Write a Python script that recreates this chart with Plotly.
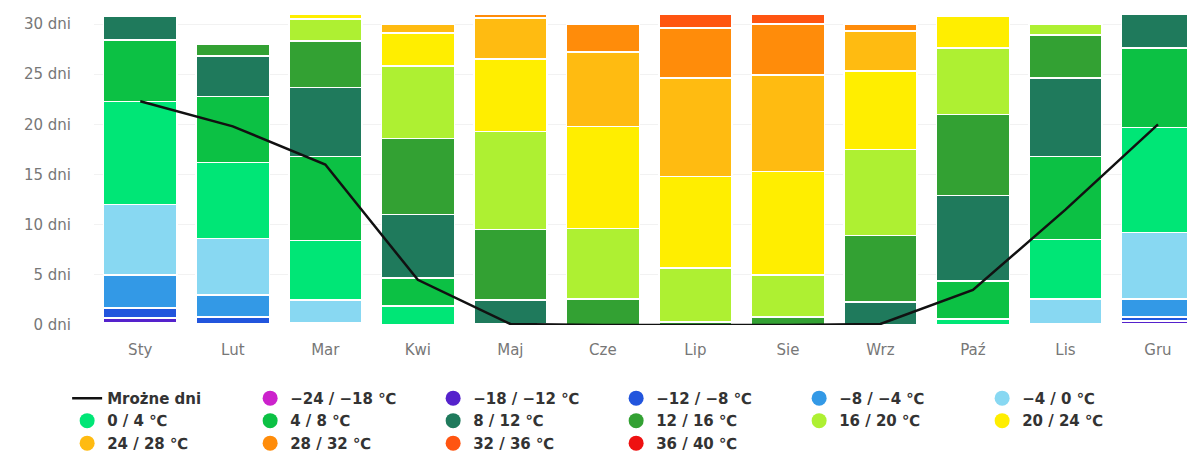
import plotly.graph_objects as go

months = ['Sty', 'Lut', 'Mar', 'Kwi', 'Maj', 'Cze', 'Lip', 'Sie', 'Wrz', 'Paź', 'Lis', 'Gru']

bin_labels = ['−24 / −18 ℃', '−18 / −12 ℃', '−12 / −8 ℃', '−8 / −4 ℃', '−4 / 0 ℃',
              '0 / 4 ℃', '4 / 8 ℃', '8 / 12 ℃', '12 / 16 ℃', '16 / 20 ℃',
              '20 / 24 ℃', '24 / 28 ℃', '28 / 32 ℃', '32 / 36 ℃', '36 / 40 ℃']

bin_colors = ['#cc22cc', '#5522cc', '#2255dd', '#3399e6', '#88d8f2',
              '#00e676', '#0cc144', '#1f7a5c', '#33a133', '#aef032',
              '#ffee00', '#ffbb11', '#ff8c0a', '#ff5511', '#ee1111']

d_m24_m18 = [0.2, 0, 0, 0, 0, 0, 0, 0, 0, 0, 0, 0.1]
d_m18_m12 = [0.5, 0.1, 0, 0, 0, 0, 0, 0, 0, 0, 0, 0.3]
d_m12_m8 = [1.0, 0.7, 0, 0, 0, 0, 0, 0, 0, 0, 0, 0.4]
d_m8_m4 = [3.3, 2.2, 0.2, 0, 0, 0, 0, 0, 0, 0, 0.1, 1.8]
d_m4_0 = [7.0, 5.6, 2.3, 0, 0, 0, 0, 0, 0, 0, 2.5, 6.6]
d_0_4 = [10.3, 7.6, 5.9, 1.9, 0, 0, 0, 0, 0, 0.6, 5.9, 10.5]
d_4_8 = [6.1, 6.6, 8.4, 2.8, 0.1, 0, 0, 0, 0, 3.8, 8.3, 7.9]
d_8_12 = [2.4, 4.0, 6.9, 6.3, 2.4, 0, 0, 0, 2.3, 8.5, 7.8, 3.4]
d_12_16 = [0.2, 1.2, 4.6, 7.6, 7.0, 2.6, 0.3, 0.8, 6.6, 8.1, 4.3, 0]
d_16_20 = [0, 0, 2.2, 7.2, 9.8, 7.0, 5.4, 4.2, 8.6, 6.6, 1.1, 0]
d_20_24 = [0, 0, 0.5, 3.3, 7.2, 10.2, 9.1, 10.3, 7.8, 3.2, 0, 0]
d_24_28 = [0, 0, 0, 0.9, 4.1, 7.4, 9.8, 9.6, 4.0, 0.2, 0, 0]
d_28_32 = [0, 0, 0, 0, 0.4, 2.8, 5.0, 5.1, 0.7, 0, 0, 0]
d_32_36 = [0, 0, 0, 0, 0, 0, 1.4, 1.0, 0, 0, 0, 0]
d_36_40 = [0, 0, 0, 0, 0, 0, 0, 0, 0, 0, 0, 0]

frost_days = [22.3, 19.8, 16.0, 4.5, 0.1, 0, 0, 0, 0.1, 3.5, 11.5, 20.0]

y_ticks = [0, 5, 10, 15, 20, 25, 30]
y_tick_labels = [f'{v} dni' for v in y_ticks]

series = [d_m24_m18, d_m18_m12, d_m12_m8, d_m8_m4, d_m4_0, d_0_4, d_4_8, d_8_12,
          d_12_16, d_16_20, d_20_24, d_24_28, d_28_32, d_32_36, d_36_40]

fig = go.Figure()

for i, (lab, col, vals) in enumerate(zip(bin_labels, bin_colors, series)):
    fig.add_trace(go.Bar(
        x=months, y=vals, name=lab, marker=dict(color=col, line=dict(color='white', width=1.5)),
        legendgroup=lab, showlegend=False, hoverinfo='skip'))
    fig.add_trace(go.Scatter(
        x=[None], y=[None], mode='markers', name=lab, legendgroup=lab,
        marker=dict(color=col, size=15, symbol='circle'), legendrank=i + 2))

fig.add_trace(go.Scatter(
    x=months, y=frost_days, mode='lines', name='Mrożne dni',
    line=dict(color='#111111', width=2.5), legendrank=1))

fig.update_layout(
    width=1187, height=466,
    barmode='stack', bargap=0.21,
    margin=dict(l=86, r=0, t=1, b=149),
    plot_bgcolor='white', paper_bgcolor='white',
    font=dict(family='DejaVu Sans', size=14, color='#666666'),
    xaxis=dict(range=[-0.5, 11.4], showgrid=False, showline=False, ticks='',
               ticklabelstandoff=14, tickfont=dict(size=15, color='#777777'),
               fixedrange=True),
    yaxis=dict(range=[0, 31.5], tickvals=y_ticks, ticktext=y_tick_labels,
               showgrid=True, gridcolor='#f2f2f2', zeroline=False, showline=False,
               ticklabelstandoff=22, tickfont=dict(size=15, color='#777777')),
    legend=dict(orientation='h', x=-0.0244, xanchor='left', y=-0.18, yanchor='top',
                entrywidth=138, font=dict(size=15, color='#333333', family='DejaVu Sans',
                                          weight='bold'),
                traceorder='normal', tracegroupgap=0, itemsizing='trace'),
    showlegend=True,
)

fig.write_html('out.html')
